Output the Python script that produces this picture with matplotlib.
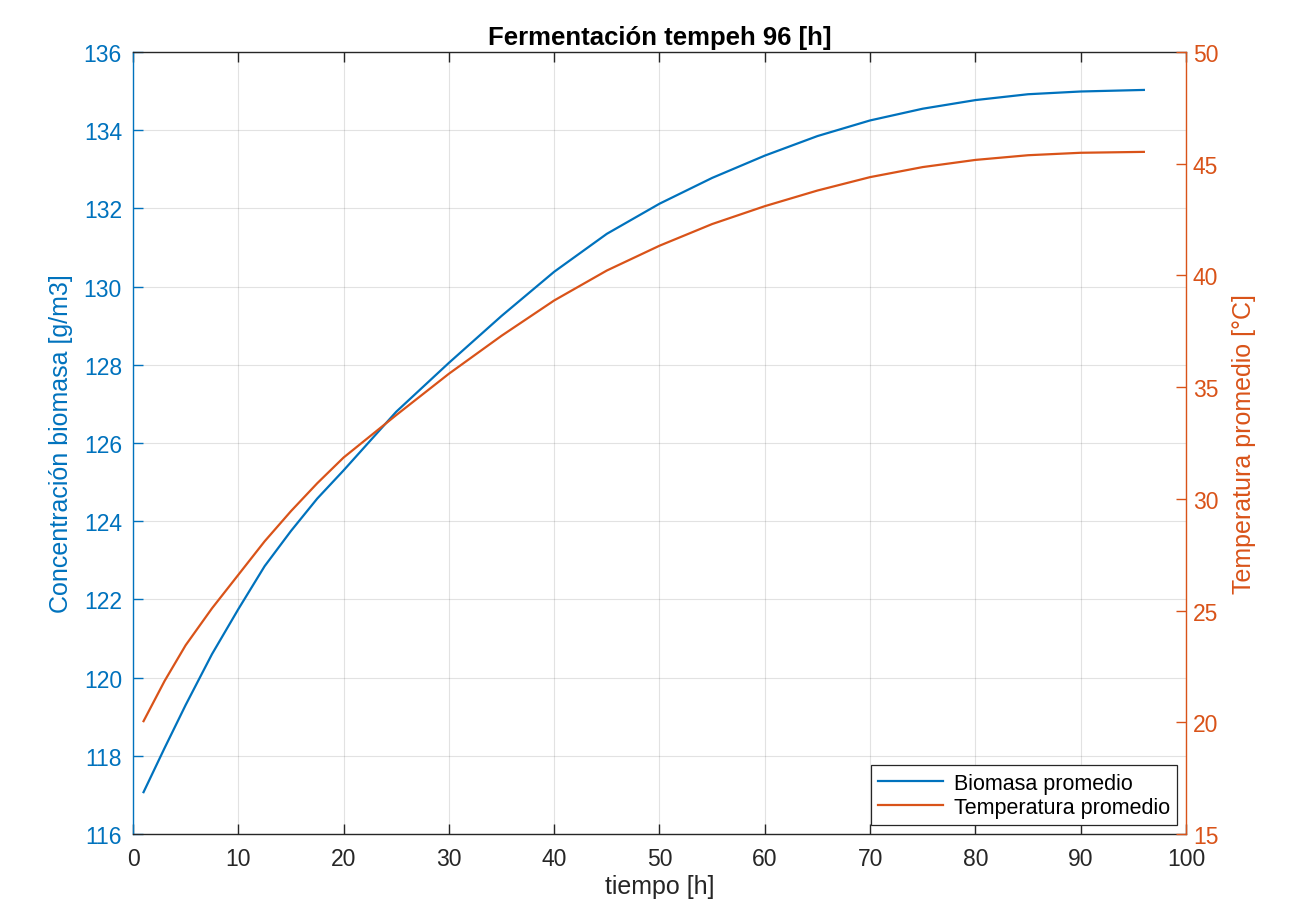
# Fermentacion tempeh 96 h: biomasa y temperatura promedio (doble eje y)
import numpy as np
import matplotlib.pyplot as plt

plt.rcParams['font.family'] = ['Liberation Sans', 'DejaVu Sans']

# valores
tiempo = [1, 3, 5, 7.5, 10, 12.5, 15, 17.5, 20, 25, 30, 35, 40, 45, 50, 55, 60,
          65, 70, 75, 80, 85, 90, 96]
biomasa = [117.07, 118.2, 119.3, 120.6, 121.75, 122.85, 123.75, 124.58, 125.3, 126.8,
           128.05, 129.25, 130.38, 131.35, 132.12, 132.78, 133.35, 133.85, 134.25,
           134.55, 134.77, 134.92, 134.99, 135.03]
temperatura = [20.05, 21.85, 23.45, 25.1, 26.6, 28.1, 29.45, 30.7, 31.85, 33.75,
               35.6, 37.3, 38.88, 40.22, 41.33, 42.3, 43.1, 43.8, 44.4, 44.85,
               45.17, 45.38, 45.49, 45.53]

xticks = np.arange(0, 101, 10)
yticks_bio = np.arange(116, 137, 2)
yticks_temp = np.arange(15, 51, 5)

azul = '#0072BD'
naranja = '#D95319'
gris = '#262626'

fig = plt.figure(figsize=(13.04, 9.03), dpi=100)
ax = fig.add_axes([0.102, 0.0753, 0.8075, 0.866])
ax2 = ax.twinx()

l1, = ax.plot(tiempo, biomasa, color=azul, lw=1.6, label='Biomasa promedio')
l2, = ax2.plot(tiempo, temperatura, color=naranja, lw=1.6, label='Temperatura promedio')

ax.set_xlim(0, 100)
ax.set_ylim(116, 136)
ax2.set_ylim(15, 50)
ax.set_xticks(xticks)
ax.set_yticks(yticks_bio)
ax2.set_yticks(yticks_temp)

ax.grid(True, color=gris, alpha=0.13, lw=0.8)
ax.set_axisbelow(True)

# spines al estilo matlab
ax.spines['right'].set_visible(False)
ax2.spines['left'].set_visible(False)
ax2.spines['top'].set_visible(False)
ax2.spines['bottom'].set_visible(False)
ax.spines['left'].set_color(azul)
ax2.spines['right'].set_color(naranja)
ax.spines['top'].set_color(gris)
ax.spines['bottom'].set_color(gris)
for s in ['left', 'top', 'bottom']:
    ax.spines[s].set_linewidth(1.0)
ax2.spines['right'].set_linewidth(1.0)

ax.tick_params(axis='x', direction='in', top=True, length=7, width=1.0,
               colors=gris, labelsize=16.5, pad=9)
ax.tick_params(axis='y', direction='in', length=7, width=1.0,
               colors=azul, labelsize=16.5, pad=8)
ax2.tick_params(axis='y', direction='in', length=7, width=1.0,
                colors=naranja, labelsize=16.5, pad=5)

ax.set_xlabel('tiempo [h]', fontsize=18, color=gris, labelpad=3)
ax.set_ylabel('Concentración biomasa [g/m3]', fontsize=18, color=azul, labelpad=8)
ax2.set_ylabel('Temperatura promedio [°C]', fontsize=18, color=naranja, labelpad=10)
ax.set_title('Fermentación tempeh 96 [h]', fontsize=18.5, fontweight='bold', pad=6)

leg = ax2.legend(handles=[l1, l2], loc='lower right', fontsize=15.5, fancybox=False,
                 framealpha=1, edgecolor=gris, borderaxespad=0.4, handlelength=3.0,
                 handletextpad=0.5, labelspacing=0.15, borderpad=0.35)
leg.get_frame().set_linewidth(0.9)

fig.savefig('out.png', dpi=100)
